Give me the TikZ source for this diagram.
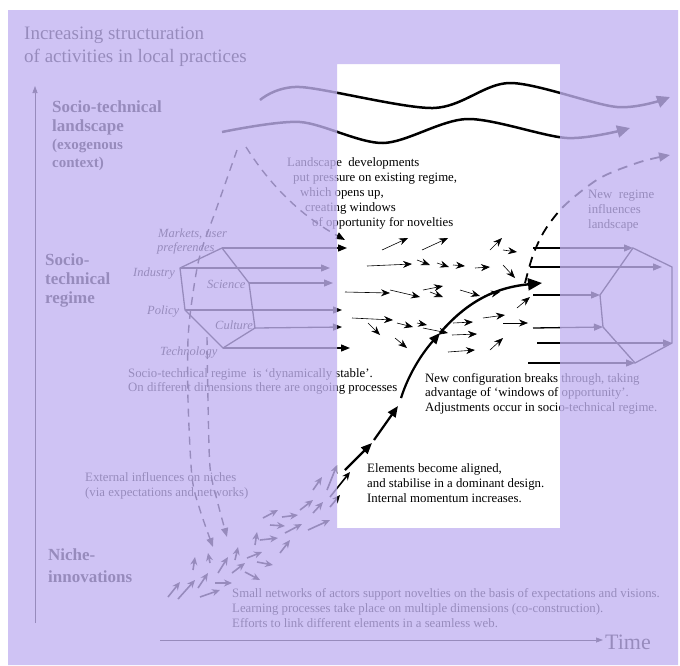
\documentclass[tikz,border=0pt]{standalone}
\usepackage{fontspec}
\setmainfont{Liberation Serif}
\usetikzlibrary{arrows.meta}
\definecolor{haze}{RGB}{194,179,242}
\begin{document}
\begin{tikzpicture}[x=1pt,y=-1pt,
  txt/.style={anchor=base west, inner sep=0pt, font=\fontsize{12.8}{15}\selectfont},
  itl/.style={anchor=base west, inner sep=0pt, font=\fontsize{12.5}{15}\selectfont\itshape},
  lvl/.style={anchor=base west, inner sep=0pt, font=\fontsize{17}{19}\selectfont\bfseries},
  lvlsmall/.style={anchor=base west, inner sep=0pt, font=\fontsize{15}{18}\selectfont\bfseries},
  wave/.style={line width=2.5pt, -{Triangle[length=13pt,width=12pt]}},
  dsh/.style={line width=1.4pt, dash pattern=on 8pt off 6pt, -{Triangle[length=9pt,width=7pt]}},
  harrow/.style={line width=1.3pt, -{Triangle[length=9pt,width=7pt]}},
  flowarrow/.style={line width=0.6pt, -{Stealth[length=9pt,width=7pt]}},
  nicharrow/.style={line width=1.6pt, -{Stealth[length=8pt,width=7pt]}},
  hexa/.style={line width=1.3pt, line join=miter},
  trajectory/.style={line width=2.2pt, -{Triangle[length=11pt,width=9pt]}},
  axis/.style={line width=0.7pt, -{Triangle[length=7pt,width=5pt]}}
]
\useasboundingbox (0,0) rectangle (680,665);
\fill[white] (0,0) rectangle (680,665);

% ---- axes ----
\coordinate (ybot) at (35,623); \coordinate (ytop) at (35,86);
\draw[axis] (ybot) -- (ytop);
\coordinate (tbeg) at (160,640); \coordinate (tend) at (603,640);
\draw[axis] (tbeg) -- (tend);
\node[anchor=base west, inner sep=0pt, font=\fontsize{22}{24}\selectfont] (time) at (605,649) {Time};

% ---- titles and level labels ----
\node[anchor=base west, inner sep=0pt, font=\fontsize{19}{23}\selectfont] (title1) at (24,39) {Increasing structuration};
\node[anchor=base west, inner sep=0pt, font=\fontsize{19}{23}\selectfont] (title2) at (24,62) {of activities in local practices};

\node[lvl] (land1) at (52,112) {Socio-technical};
\node[lvl] (land2) at (52,131) {landscape};
\node[lvlsmall] (land3) at (52,149) {(exogenous};
\node[lvlsmall] (land4) at (52,167) {context)};

\node[lvl] (reg1) at (45,265) {Socio-};
\node[lvl] (reg2) at (45,284) {technical};
\node[lvl] (reg3) at (45,303) {regime};

\node[lvl] (nic1) at (48,560) {Niche-};
\node[lvl] (nic2) at (48,582) {innovations};

% ---- landscape trends ----
\draw[wave] plot[smooth] coordinates {(260,100) (300,87) (433,108) (510,83) (617,107) (670,97)};
\draw[wave] plot[smooth] coordinates {(222,132) (300,122) (383,143) (467,119) (567,138) (630,128)};

% ---- dashed influences from landscape and regime ----
\draw[dsh] plot[smooth] coordinates {(237,150) (217,207) (200,255) (192,300) (188,340) (188,400) (192,477) (200,510) (213,547)};
\draw[dsh] (246,147) .. controls (270,185) and (300,215) .. (345,240);
\draw[dsh] plot[smooth] coordinates {(207,337) (208,400) (210,467) (217,500) (227,537)};

% ---- current regime hexagon ----
\coordinate (h1) at (222,248); \coordinate (h2) at (249,283); \coordinate (h3) at (255,328);
\coordinate (h4) at (223,348); \coordinate (h5) at (185,310); \coordinate (h6) at (180,268);
\draw[hexa] (h1) -- (h2) -- (h3) -- (h4) -- (h5) -- (h6) -- cycle;
\coordinate (e1) at (347,248); \coordinate (e6) at (330,268); \coordinate (e2) at (333,283);
\coordinate (e5) at (342,310); \coordinate (e3) at (342,327); \coordinate (e4) at (350,348);
\draw[harrow] (h1) -- (e1);
\draw[harrow] (h6) -- (e6);
\draw[harrow] (h2) -- (e2);
\draw[harrow] (h5) -- (e5);
\draw[harrow] (h3) -- (e3);
\draw[harrow] (h4) -- (e4);

\node[itl] (mk1) at (158,237) {Markets, user};
\node[itl] (mk2) at (157,251) {preferences};
\node[itl] (ind) at (133,276) {Industry};
\node[itl] (sci) at (207,288) {Science};
\node[itl] (pol) at (147,314) {Policy};
\node[itl] (cul) at (215,329) {Culture};
\node[itl] (tec) at (160,355) {Technology};

\node[txt] (stab1) at (128,377) {Socio-technical regime\ \ is `dynamically stable'.};
\node[txt] (stab2) at (128,391) {On different dimensions there are ongoing processes};

% ---- landscape pressure text ----
\node[txt] (lp1) at (287,166) {Landscape\ \ developments};
\node[txt] (lp2) at (293,181) {put pressure on existing regime,};
\node[txt] (lp3) at (300,196) {which opens up,};
\node[txt] (lp4) at (305,211) {creating windows};
\node[txt] (lp5) at (312,226) {of opportunity for novelties};

% ---- turbulence of small arrows ----
\foreach \xa/\ya/\xb/\yb in {
  382/250/408/238, 422/250/448/238, 490/250/502/238, 503/250/517/252,
  367/266/412/264, 417/260/430/265, 437/263/449/267, 453/265/465/266,
  475/268/490/267, 503/265/515/278,
  345/292/390/293, 390/290/420/297, 423/290/443/286, 430/292/443/297,
  460/290/480/296, 487/295/500/292, 517/308/530/297,
  352/318/393/320, 397/323/413/327, 417/323/427/325, 368/323/380/335,
  395/338/407/348, 423/328/448/333, 453/323/473/322, 483/318/505/315,
  503/323/528/323, 452/335/477/334, 448/352/475/350, 490/350/503/338}
  \draw[flowarrow] (\xa,\ya) -- (\xb,\yb);

% ---- niche arrows ----
\foreach \xa/\ya/\xb/\yb in {
  168/597/180/582, 178/599/195/580, 198/588/208/573, 200/597/220/590,
  215/583/232/583, 193/570/195/557, 210/563/208/553, 218/573/228/557,
  232/573/245/563, 235/560/238/547, 247/558/262/552, 257/562/273/565,
  245/572/260/580, 255/545/257/532, 260/540/278/538, 280/553/290/540,
  263/518/278/510, 270/525/285/526, 282/517/298/515, 285/533/302/524,
  300/510/313/500, 308/530/330/520, 313/513/323/502, 313/490/322/477,
  327/490/337/465, 330/507/340/495, 330/497/350/472}
  \draw[nicharrow] (\xa,\ya) -- (\xb,\yb);

% ---- trajectory of the new configuration ----
\coordinate (t0) at (345,470); \coordinate (t1) at (372,443);
\coordinate (t2) at (374,440); \coordinate (t3) at (398,406);
\coordinate (t4) at (401,398); \coordinate (t5) at (440,333);
\coordinate (t6) at (542,283);
\draw[trajectory] (t0) -- (t1);
\draw[trajectory] (t2) -- (t3);
\draw[trajectory] (t4) .. controls (410,370) and (425,350) .. (t5);
\draw[line width=2.4pt, -{Triangle[length=14pt,width=12pt]}] (t5) .. controls (470,298) and (500,287) .. (t6);

\node[txt] (el1) at (367,472) {Elements become aligned,};
\node[txt] (el2) at (367,487) {and stabilise in a dominant design.};
\node[txt] (el3) at (367,502) {Internal momentum increases.};

\node[txt] (nc1) at (425,382) {New configuration breaks through, taking};
\node[txt] (nc2) at (425,396) {advantage of `windows of opportunity'.};
\node[txt] (nc3) at (425,411) {Adjustments occur in socio-technical regime.};

% ---- new regime influencing the landscape ----
\draw[line width=1.8pt, dash pattern=on 10pt off 7pt, -{Triangle[length=11pt,width=9pt]}]
  plot[smooth] coordinates {(525,283) (533,255) (545,230) (565,205) (600,178) (640,162) (670,155)};
\node[txt] (nr1) at (588,198) {New\ \ regime};
\node[txt] (nr2) at (588,213) {influences};
\node[txt] (nr3) at (588,228) {landscape};

% ---- new regime hexagon ----
\coordinate (r1) at (633,248); \coordinate (r2) at (672,267); \coordinate (r3) at (672,343);
\coordinate (r4) at (635,363); \coordinate (r5) at (603,327); \coordinate (r6) at (600,295);
\draw[hexa] (r1) -- (r2) -- (r3) -- (r4) -- (r5) -- (r6) -- cycle;
\coordinate (s1) at (533,248); \coordinate (s2) at (530,267); \coordinate (s3) at (533,295);
\coordinate (s4) at (533,328); \coordinate (s5) at (537,343); \coordinate (s6) at (528,363);
\coordinate (f2) at (662,267);
\draw[harrow] (s1) -- (r1);
\draw[harrow] (s2) -- (f2);
\draw[harrow] (s3) -- (r6);
\draw[harrow] (s4) -- (r5);
\draw[harrow] (s5) -- (r3);
\draw[harrow] (s6) -- (r4);

% ---- external influences and niche texts ----
\node[txt] (ext1) at (85,481) {External influences on niches};
\node[txt] (ext2) at (85,496) {(via expectations and networks)};

\node[txt] (sn1) at (232,597) {Small networks of actors support novelties on the basis of expectations and visions.};
\node[txt] (sn2) at (232,612) {Learning processes take place on multiple dimensions (co-construction).};
\node[txt] (sn3) at (232,627) {Efforts to link different elements in a seamless web.};

% ---- tinted veil around the clear window ----
\fill[haze, opacity=0.78, even odd rule] (8,10) rectangle (678,665) (337,64) rectangle (560,528);
\end{tikzpicture}
\end{document}
